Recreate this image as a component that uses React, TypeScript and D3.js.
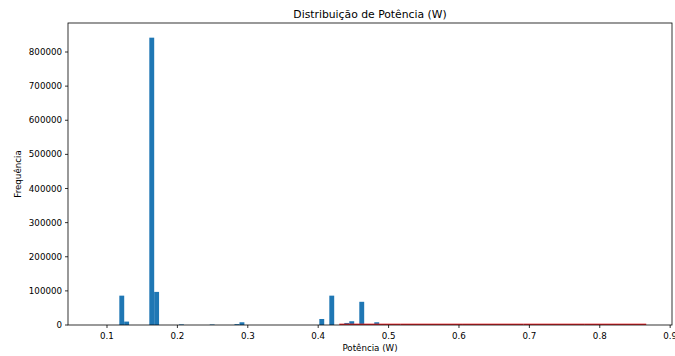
import React from "react";
import * as d3 from "d3";

const W = 675;
const H = 356;

const title = "Distribuição de Potência (W)";
const xLabel = "Potência (W)";
const yLabel = "Frequência";

const binWidth = 0.00695;
const blueBinStarts = [0.1175, 0.1244, 0.1601, 0.167, 0.2023, 0.2459, 0.2811, 0.2882, 0.4016, 0.4158, 0.4371, 0.4442, 0.4584, 0.4797];
const blueCounts = [86000, 10000, 842000, 97000, 1800, 1500, 2500, 8000, 17600, 86000, 6000, 11000, 68000, 8000];

const redBinWidth = 0.0872;
const redBinStarts = [0.43, 0.5172, 0.6044, 0.6916, 0.7788];
const redCounts = [4000, 4000, 4000, 4000, 4000];

const xTicks = [0.1, 0.2, 0.3, 0.4, 0.5, 0.6, 0.7, 0.8, 0.9];
const yTicks = [0, 100000, 200000, 300000, 400000, 500000, 600000, 700000, 800000];

const xDomain = [0.0446, 0.9026];
const yDomain = [0, 885000];

export default function App() {
  const left = 68, right = 672, top = 23, bottom = 325;
  const x = d3.scaleLinear().domain(xDomain).range([left, right]);
  const y = d3.scaleLinear().domain(yDomain).range([bottom, top]);
  const font = "DejaVu Sans, sans-serif";
  const fs = 8.7;
  return (
    <div style={{ position: "absolute", left: 0, top: 0 }}>
      <svg width={W} height={H} style={{ display: "block", background: "#fff" }}>
        <defs>
          <clipPath id="clip">
            <rect x={left} y={top} width={right - left} height={bottom - top} />
          </clipPath>
        </defs>
        <g clipPath="url(#clip)">
          {blueBinStarts.map((s, i) => (
            <rect
              key={"b" + i}
              x={x(s)}
              y={y(blueCounts[i])}
              width={x(s + binWidth) - x(s)}
              height={y(0) - y(blueCounts[i])}
              fill="#1f77b4"
            />
          ))}
          {redBinStarts.map((s, i) => (
            <rect
              key={"r" + i}
              x={x(s)}
              y={y(redCounts[i])}
              width={x(s + redBinWidth) - x(s)}
              height={y(0) - y(redCounts[i])}
              fill="#e8282d"
            />
          ))}
        </g>
        <rect x={left} y={top} width={right - left} height={bottom - top} fill="none" stroke="#000" strokeWidth={0.8} />
        {xTicks.map((t) => (
          <g key={"xt" + t}>
            <line x1={x(t)} x2={x(t)} y1={bottom} y2={bottom + 3} stroke="#000" strokeWidth={0.8} />
            <text x={x(t)} y={bottom + 13.5} textAnchor="middle" fontFamily={font} fontSize={fs} fill="#000">
              {t.toFixed(1)}
            </text>
          </g>
        ))}
        {yTicks.map((t) => (
          <g key={"yt" + t}>
            <line x1={left - 3} x2={left} y1={y(t)} y2={y(t)} stroke="#000" strokeWidth={0.8} />
            <text x={left - 6} y={y(t)} dy="0.35em" textAnchor="end" fontFamily={font} fontSize={fs} fill="#000">
              {t}
            </text>
          </g>
        ))}
        <text x={(left + right) / 2} y={351} textAnchor="middle" fontFamily={font} fontSize={fs} fill="#000">
          {xLabel}
        </text>
        <text
          transform={`translate(${21},${(top + bottom) / 2}) rotate(-90)`}
          textAnchor="middle"
          fontFamily={font}
          fontSize={fs}
          fill="#000"
        >
          {yLabel}
        </text>
        <text x={(left + right) / 2} y={18} textAnchor="middle" fontFamily={font} fontSize={10.8} fill="#000">
          {title}
        </text>
      </svg>
    </div>
  );
}
